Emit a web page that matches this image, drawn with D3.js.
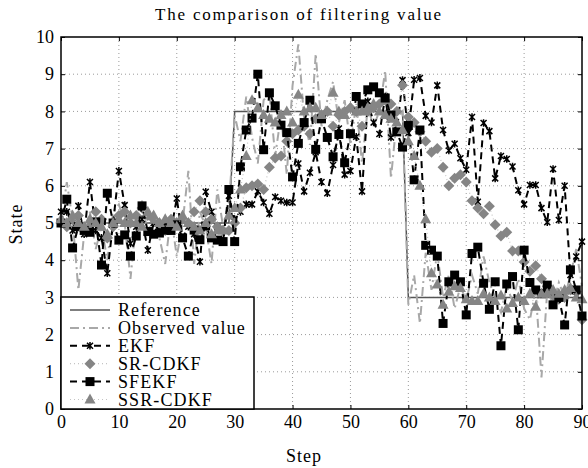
<!DOCTYPE html>
<html lang="en">
<head>
<meta charset="utf-8">
<title>The comparison of filtering value</title>
<script src="https://cdn.jsdelivr.net/npm/d3@7"></script>
<style>
  body { margin: 0; background: #fff; }
  text { font-family: "Liberation Serif", "Times New Roman", serif; fill: #000; }
</style>
</head>
<body>
<script>
// chart data
var steps = d3.range(0, 91);
var x_ticks = [0, 10, 20, 30, 40, 50, 60, 70, 80, 90];
var y_ticks = [0, 1, 2, 3, 4, 5, 6, 7, 8, 9, 10];
var series_names = ["Reference", "Observed value", "EKF", "SR-CDKF", "SFEKF", "SSR-CDKF"];

var reference = [
  5, 5, 5, 5, 5, 5, 5, 5, 5, 5, 5, 5, 5, 5, 5, 5, 5, 5, 5, 5, 5, 5, 5, 5, 5, 5, 5, 5, 5, 5,
  8, 8, 8, 8, 8, 8, 8, 8, 8, 8, 8, 8, 8, 8, 8, 8, 8, 8, 8, 8, 8, 8, 8, 8, 8, 8, 8, 8, 8, 8,
  3, 3, 3, 3, 3, 3, 3, 3, 3, 3, 3, 3, 3, 3, 3, 3, 3, 3, 3, 3, 3, 3, 3, 3, 3, 3, 3, 3, 3, 3, 3];

var observed = [
  5.0, 6.1, 5.1, 3.2, 4.7, 5.3, 4.3, 4.9, 4.0, 5.3, 5.5, 5.0, 3.5, 5.1, 5.6, 4.7, 5.3, 4.6, 3.9, 5.2,
  4.1, 5.0, 6.4, 3.9, 5.3, 4.9, 3.9, 5.9, 4.9, 5.4,
  7.9, 7.2, 8.4, 7.3, 6.6, 8.3, 8.5, 6.8, 7.9, 6.3, 8.7, 9.8, 7.8, 7.1, 9.55, 7.6, 8.3, 8.8, 7.7, 8.3,
  7.1, 8.2, 6.6, 8.1, 7.6, 8.0, 9.1, 6.2, 7.8, 8.0,
  2.8, 3.6, 2.3, 4.2, 3.2, 4.2, 3.0, 3.6, 2.7, 3.3, 2.9, 3.6, 3.1, 4.1, 3.4, 3.0, 2.6, 3.3, 2.9, 3.5,
  2.7, 2.4, 3.2, 0.85, 3.2, 2.8, 3.4, 3.0, 3.6, 4.3, 3.3];

var ekf = [
  5.3, 5.3, 4.8, 5.46, 4.7, 6.1, 4.8, 4.6, 3.65, 5.0, 6.4, 5.48, 4.45, 4.9, 5.1, 4.27, 5.0, 4.8, 5.0, 4.8,
  5.66, 4.6, 4.9, 4.7, 3.96, 5.84, 5.3, 4.9, 4.5, 5.73,
  5.1, 5.3, 5.5, 5.5, 5.85, 5.55, 5.25, 5.7, 5.6, 5.55, 5.55, 6.6, 5.85, 6.35, 6.9, 6.1, 5.8, 6.56, 7.54, 6.3,
  6.4, 7.32, 5.85, 8.27, 7.7, 7.39, 8.4, 7.3, 7.45, 8.84,
  7.42, 8.85, 8.9, 7.88, 7.7, 8.7, 7.5, 6.95, 7.13, 6.74, 6.43, 7.85, 5.57, 7.69, 7.47, 6.2, 6.8, 6.72, 6.52, 5.88,
  5.5, 6.02, 6.02, 5.4, 5.02, 6.45, 5.08, 6.0, 3.6, 4.1, 4.5];

var sr_cdkf = [
  5.0, 4.9, 5.1, 5.2, 4.8, 5.0, 5.3, 5.1, 4.6, 4.9, 5.2, 5.3, 5.0, 5.2, 5.4, 5.2, 5.1, 5.0, 4.8, 5.1,
  5.0, 5.1, 5.0, 5.3, 5.6, 5.3, 5.1, 4.9, 4.8, 4.8,
  5.0, 5.4, 5.95, 6.0, 6.05, 5.9, 6.5, 6.75, 6.8, 7.2, 7.4, 7.5, 7.6, 7.4, 7.8, 7.9, 8.0, 7.6, 7.9, 8.0,
  8.1, 8.0, 7.6, 8.0, 8.1, 8.2, 8.3, 8.2, 8.0, 8.7,
  7.85, 7.7, 7.45, 7.2, 6.9, 7.0, 6.5, 6.0, 6.2, 6.3, 6.1, 5.6, 5.4, 5.25, 5.45, 4.95, 4.65, 4.75, 4.25, 4.25,
  3.95, 3.7, 3.85, 3.5, 3.3, 3.05, 2.95, 3.0, 3.2, 3.15, 2.4];

var sfekf = [
  5.0, 5.64, 4.33, 4.9, 4.8, 4.75, 5.03, 3.87, 5.8, 5.0, 4.54, 4.68, 4.11, 4.65, 5.46, 4.77, 4.7, 4.73, 4.81, 4.8,
  4.95, 4.6, 4.11, 4.81, 4.55, 4.92, 4.6, 4.54, 4.5, 5.9,
  4.5, 6.51, 7.5, 7.82, 9.0, 6.97, 8.5, 8.15, 7.63, 7.43, 6.24, 7.14, 7.7, 8.3, 6.98, 7.8, 7.3, 6.78, 7.38, 6.62,
  7.4, 8.4, 8.2, 8.58, 8.66, 8.5, 8.36, 7.9, 7.45, 7.04,
  7.62, 6.16, 7.5, 4.4, 4.27, 4.11, 2.3, 3.42, 3.6, 3.42, 2.53, 4.18, 4.35, 3.38, 2.68, 3.42, 1.7, 3.36, 3.56, 2.13,
  4.27, 3.4, 3.2, 3.1, 3.33, 2.8, 3.0, 2.26, 3.74, 3.2, 2.5];

var ssr_cdkf = [
  5.1, 5.0, 5.2, 5.0, 4.9, 5.1, 5.0, 4.9, 4.7, 5.0, 5.1, 5.0, 5.2, 5.0, 4.9, 5.3, 5.2, 5.0, 5.1, 5.0,
  4.9, 5.2, 5.0, 4.9, 4.8, 5.0, 4.7, 4.8, 4.8, 5.2,
  5.4, 5.9, 6.8, 8.3, 8.1, 7.9, 7.8, 7.7, 7.9, 8.0, 7.7, 8.45, 8.0, 8.1, 8.1, 7.9, 8.0, 8.5, 8.0, 7.9,
  8.1, 8.0, 8.0, 8.1, 8.2, 8.0, 7.9, 7.8, 7.7, 7.5,
  7.2, 6.8, 6.0, 5.1, 3.65, 3.35, 2.8, 3.15, 3.3, 3.25, 2.95, 2.9, 2.9, 3.1, 3.0, 2.9, 3.05, 2.7, 2.85, 3.0,
  2.9, 3.1, 2.75, 3.1, 3.1, 3.2, 3.1, 3.2, 3.25, 3.0, 2.95];

// page parameters
var width = 588;
var height = 468;
var plot_left = 61, plot_right = 582, plot_top = 37, plot_bottom = 409;

var svg = d3.select("body").append("svg").attr("width", width).attr("height", height);

var x_scale = d3.scaleLinear().domain([0, 90]).range([plot_left, plot_right]);
var y_scale = d3.scaleLinear().domain([0, 10]).range([plot_bottom, plot_top]);

// dotted grid
svg.append("g").selectAll("line")
  .data(x_ticks.slice(1, -1))
  .enter().append("line")
  .attr("x1", d => x_scale(d)).attr("x2", d => x_scale(d))
  .attr("y1", plot_top).attr("y2", plot_bottom)
  .attr("stroke", "#9a9a9a").attr("stroke-width", 1).attr("stroke-dasharray", "1,3");
svg.append("g").selectAll("line")
  .data(y_ticks.slice(1, -1))
  .enter().append("line")
  .attr("x1", plot_left).attr("x2", plot_right)
  .attr("y1", d => y_scale(d)).attr("y2", d => y_scale(d))
  .attr("stroke", "#9a9a9a").attr("stroke-width", 1).attr("stroke-dasharray", "1,3");

// series styles
var styles = [
  { data: reference, color: "#555", width: 1.5, dash: null, marker: null },
  { data: observed, color: "#a8a8a8", width: 2, dash: "9,4,2,4", marker: null },
  { data: ekf, color: "#000", width: 2, dash: "7,5", marker: "star", mcolor: "#000" },
  { data: sr_cdkf, color: "#c4c4c4", width: 1.2, dash: "1,3", marker: "diamond", mcolor: "#858585" },
  { data: sfekf, color: "#000", width: 2, dash: "7,5", marker: "square", mcolor: "#000" },
  { data: ssr_cdkf, color: "#c4c4c4", width: 1.2, dash: "1,3", marker: "triangle", mcolor: "#858585" }
];

var marker_paths = {
  star: "M-3,-3L3,3M-3,3L3,-3M0,-3.8L0,3.8",
  diamond: "M0,-5.5L5.5,0L0,5.5L-5.5,0Z",
  square: "M-4.5,-4.5L4.5,-4.5L4.5,4.5L-4.5,4.5Z",
  triangle: "M0,-6L5.5,4L-5.5,4Z"
};

function draw_marker(g, s, cx, cy) {
  var p = g.append("path")
    .attr("d", marker_paths[s.marker])
    .attr("transform", "translate(" + cx + "," + cy + ")");
  if (s.marker == "star") {
    p.attr("fill", "none").attr("stroke", s.mcolor).attr("stroke-width", 1.5);
  } else {
    p.attr("fill", s.mcolor).attr("stroke", "none");
  }
}

var line = d3.line()
  .x((d, i) => x_scale(steps[i]))
  .y(d => y_scale(d));

var plot = svg.append("g");
styles.forEach(function (s) {
  plot.append("path")
    .attr("d", line(s.data))
    .attr("fill", "none")
    .attr("stroke", s.color)
    .attr("stroke-width", s.width)
    .attr("stroke-dasharray", s.dash);
  if (s.marker) {
    var mg = plot.append("g");
    s.data.forEach(function (v, i) {
      draw_marker(mg, s, x_scale(steps[i]), y_scale(v));
    });
  }
});

// axes, ticks inside on all sides
var x_axis = d3.axisBottom(x_scale).tickValues(x_ticks).tickSize(-4).tickPadding(6);
var y_axis = d3.axisLeft(y_scale).tickValues(y_ticks).tickSize(-4).tickPadding(7);

var gx = svg.append("g").attr("transform", "translate(0," + plot_bottom + ")").call(x_axis);
var gy = svg.append("g").attr("transform", "translate(" + plot_left + ",0)").call(y_axis);
svg.append("g").attr("transform", "translate(0," + plot_top + ")")
  .call(d3.axisTop(x_scale).tickValues(x_ticks).tickSize(-4).tickFormat(""));
svg.append("g").attr("transform", "translate(" + plot_right + ",0)")
  .call(d3.axisRight(y_scale).tickValues(y_ticks).tickSize(-4).tickFormat(""));
svg.selectAll(".domain").remove();
svg.selectAll(".tick line").attr("stroke", "#000").attr("stroke-width", 1);
[gx, gy].forEach(g => g.selectAll("text")
  .style("font-family", '"Liberation Serif", "Times New Roman", serif')
  .style("font-size", "18px"));

// frame
svg.append("rect")
  .attr("x", plot_left).attr("y", plot_top)
  .attr("width", plot_right - plot_left).attr("height", plot_bottom - plot_top)
  .attr("fill", "none").attr("stroke", "#000").attr("stroke-width", 1.5);

// legend
var legend = svg.append("g");
legend.append("rect")
  .attr("x", plot_left).attr("y", 297)
  .attr("width", 193).attr("height", plot_bottom - 297)
  .attr("fill", "#fff").attr("stroke", "#000").attr("stroke-width", 1.5);
styles.forEach(function (s, i) {
  var ly = 310 + i * 17.9;
  legend.append("line")
    .attr("x1", 70).attr("x2", 110).attr("y1", ly).attr("y2", ly)
    .attr("stroke", s.color).attr("stroke-width", s.width)
    .attr("stroke-dasharray", s.dash);
  if (s.marker) draw_marker(legend, s, 90, ly);
  legend.append("text")
    .attr("x", 118).attr("y", ly + 6)
    .style("font-size", "18px")
    .style("letter-spacing", "1.1px")
    .text(series_names[i]);
});

// title and axis labels
svg.append("text")
  .attr("x", 299).attr("y", 20)
  .attr("text-anchor", "middle")
  .style("font-size", "17px")
  .style("letter-spacing", "1.8px")
  .text("The comparison of filtering value");

svg.append("text")
  .attr("x", 304).attr("y", 462)
  .attr("text-anchor", "middle")
  .style("font-size", "18px")
  .style("letter-spacing", "1px")
  .text("Step");

svg.append("text")
  .attr("transform", "translate(22,224) rotate(-90)")
  .attr("text-anchor", "middle")
  .style("font-size", "18px")
  .style("letter-spacing", "1px")
  .text("State");
</script>
</body>
</html>
